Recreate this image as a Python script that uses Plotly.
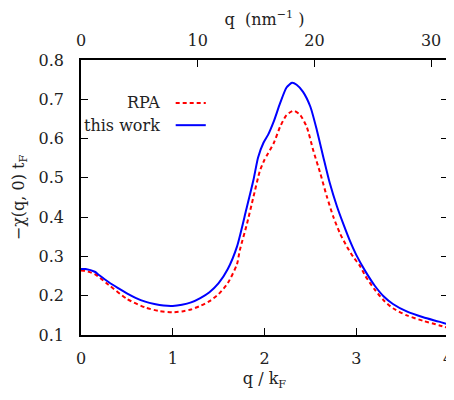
import plotly.graph_objects as go

# q / k_F values and susceptibilities
q_work = [0.0, 0.05, 0.15, 0.2, 0.3, 0.4, 0.5, 0.6, 0.7, 0.8, 0.9, 1.0, 1.1, 1.2, 1.3, 1.4,
          1.5, 1.6, 1.7, 1.8, 1.88, 1.93, 1.99, 2.04, 2.1, 2.17, 2.24, 2.3, 2.35, 2.42, 2.5,
          2.57, 2.64, 2.71, 2.79, 2.86, 2.93, 3.0, 3.1, 3.2, 3.3, 3.4, 3.55, 3.73, 3.9, 4.0]
chi_work = [0.268, 0.268, 0.261, 0.252, 0.235, 0.220, 0.206, 0.194, 0.185, 0.179, 0.175,
            0.174, 0.177, 0.183, 0.194, 0.209, 0.232, 0.268, 0.325, 0.418, 0.495, 0.552,
            0.590, 0.610, 0.643, 0.690, 0.730, 0.742, 0.737, 0.719, 0.681, 0.622, 0.554,
            0.488, 0.427, 0.382, 0.340, 0.304, 0.262, 0.226, 0.198, 0.179, 0.160, 0.145,
            0.134, 0.127]

q_rpa = [0.0, 0.05, 0.15, 0.3, 0.5, 0.7, 0.85, 1.0, 1.1, 1.2, 1.3, 1.4, 1.5, 1.6, 1.7,
         1.73, 1.81, 1.88, 1.95, 2.0, 2.1, 2.17, 2.24, 2.32, 2.39, 2.46, 2.53, 2.61, 2.68,
         2.75, 2.82, 2.9, 2.97, 3.04, 3.1, 3.2, 3.3, 3.4, 3.55, 3.73, 3.9, 4.0]
chi_rpa = [0.264, 0.263, 0.255, 0.228, 0.192, 0.170, 0.161, 0.158, 0.160, 0.165, 0.174,
           0.186, 0.204, 0.232, 0.280, 0.315, 0.384, 0.452, 0.518, 0.546, 0.588, 0.630,
           0.660, 0.671, 0.660, 0.630, 0.571, 0.510, 0.452, 0.401, 0.360, 0.324, 0.298,
           0.276, 0.250, 0.216, 0.188, 0.168, 0.150, 0.136, 0.125, 0.118]

x_ticks = [0, 1, 2, 3, 4]
y_ticks = [0.1, 0.2, 0.3, 0.4, 0.5, 0.6, 0.7, 0.8]
top_ticks = [0, 10, 20, 30]
x_range = [0, 4]
top_range = [0, 31.45]
y_range = [0.1, 0.8]

FONT = "DejaVu Serif"
FS = 16
TXT = "#222"

fig = go.Figure()
fig.add_trace(go.Scatter(x=q_rpa, y=chi_rpa, mode="lines", name="RPA",
                         line=dict(color="#ff0000", width=2, dash="4px,3px", shape="spline",
                                   smoothing=0.6),
                         showlegend=False))
fig.add_trace(go.Scatter(x=q_work, y=chi_work, mode="lines", name="this work",
                         line=dict(color="#0000ff", width=2, shape="spline", smoothing=0.6),
                         showlegend=False))
# empty trace to activate the top axis
fig.add_trace(go.Scatter(x=[], y=[], xaxis="x2", yaxis="y", showlegend=False,
                         hoverinfo="skip"))

# manual legend (text on the left, sample on the right)
legend_items = [("RPA", "#ff0000", "4px,3px", 0.844), ("this work", "#0000ff", "solid", 0.763)]
for label, col, dash, yy in legend_items:
    fig.add_annotation(xref="paper", yref="paper", x=0.22, y=yy, text=label,
                       showarrow=False, xanchor="right", yanchor="middle",
                       font=dict(family=FONT, size=FS, color=TXT))
    fig.add_shape(type="line", xref="paper", yref="paper", x0=0.258, x1=0.34,
                  y0=yy, y1=yy, line=dict(color=col, width=2, dash=dash))

axis_common = dict(showgrid=False, zeroline=False, linecolor="black", linewidth=1.5,
                   ticks="inside", ticklen=7, tickwidth=1.2, tickcolor="black",
                   ticklabeloverflow="allow", automargin=False,
                   tickfont=dict(family=FONT, size=FS, color=TXT))

# page body has an 8px margin: figure spans x 8..454, y 8..400
fig.update_layout(
    width=446, height=392,
    margin=dict(l=73, r=6, t=52, b=65),
    paper_bgcolor="white", plot_bgcolor="white",
    font=dict(family=FONT, size=FS, color=TXT),
    xaxis=dict(range=x_range, tickvals=x_ticks, mirror=True,
               title=dict(text="q / k<sub>F</sub>", font=dict(family=FONT, size=FS, color=TXT),
                          standoff=6),
               ticklabelstandoff=8, **axis_common),
    xaxis2=dict(range=top_range, tickvals=top_ticks, overlaying="x", side="top",
                title=dict(text="q  (nm<sup>−1</sup> )", font=dict(family=FONT, size=FS, color=TXT),
                           standoff=6),
                ticklabelstandoff=6, **axis_common),
    yaxis=dict(range=y_range, tickvals=y_ticks, tickformat=".1f", mirror="ticks",
               title=dict(text="−χ(q, 0) t<sub>F</sub>", font=dict(family=FONT, size=FS, color=TXT),
                          standoff=10),
               ticklabelstandoff=12, **axis_common),
)

fig.write_html("out.html")
